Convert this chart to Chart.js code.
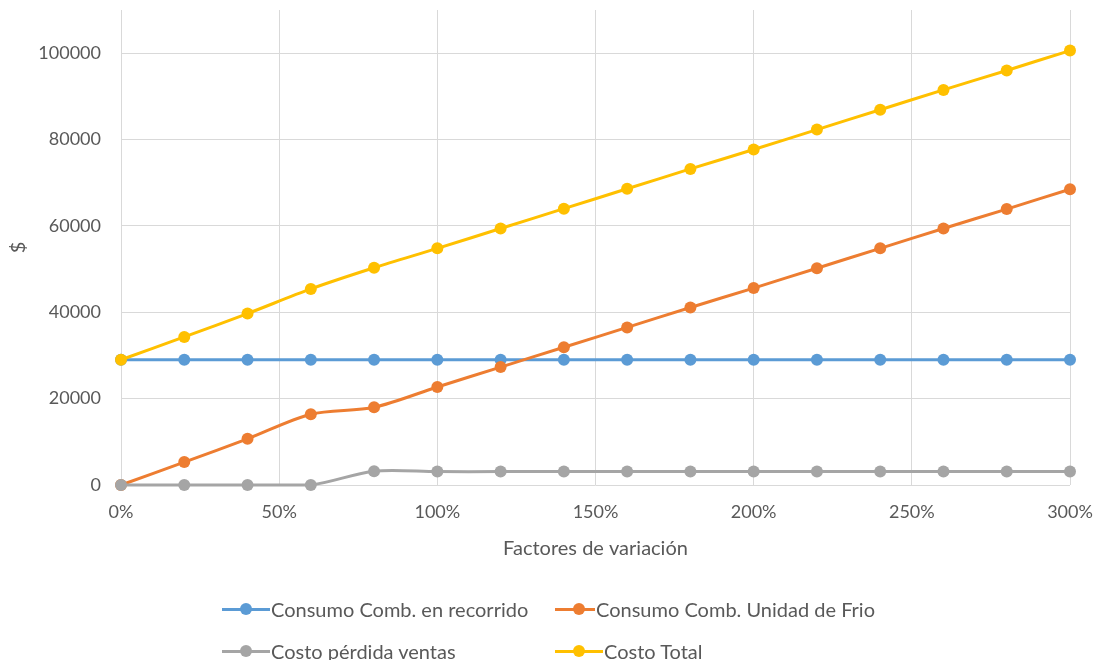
<!DOCTYPE html>
<html>
<head>
<meta charset="utf-8">
<script src="https://cdn.jsdelivr.net/npm/chart.js@4.4.1/dist/chart.umd.min.js"></script>
<style>
  html, body { margin: 0; padding: 0; background: #ffffff; }
  #wrap { position: relative; width: 1097px; height: 660px; }
  #chart { position: absolute; left: 0; top: 0; }
  #legend {
    position: absolute; left: 222px; top: 596px;
    display: grid; grid-template-columns: 333px 320px; row-gap: 16px;
    font-family: Lato, "Open Sans", sans-serif; font-size: 20px; color: #595959;
  }
  .item { display: flex; align-items: center; height: 26px; white-space: nowrap; }
  .sw { position: relative; width: 48px; height: 12px; margin-right: 1px; }
  .sw .ln { position: absolute; left: 0; right: 0; top: 4.5px; height: 3px; }
  .sw .dt { position: absolute; left: 18px; top: 0; width: 12px; height: 12px; border-radius: 50%; }
</style>
</head>
<body>
<div id="wrap">
  <canvas id="chart" width="1097" height="660"></canvas>
  <div id="legend"></div>
</div>
<script>
// Variation factors (%) along the horizontal axis
const factores = [0, 20, 40, 60, 80, 100, 120, 140, 160, 180, 200, 220, 240, 260, 280, 300];

// Cost series in $
const consumoRecorrido = [29000, 29000, 29000, 29000, 29000, 29000, 29000, 29000, 29000, 29000, 29000, 29000, 29000, 29000, 29000, 29000];
const consumoFrio      = [0, 5300, 10700, 16400, 18000, 22700, 27300, 31900, 36500, 41100, 45600, 50200, 54800, 59400, 63900, 68500];
const perdidaVentas    = [0, 0, 0, 0, 3200, 3100, 3100, 3100, 3100, 3100, 3100, 3100, 3100, 3100, 3100, 3100];
const costoTotal       = [29000, 34300, 39700, 45400, 50300, 54800, 59400, 64000, 68600, 73200, 77700, 82300, 86900, 91500, 96000, 100600];

const seriesNames = ['Consumo Comb. en recorrido', 'Consumo Comb. Unidad de Frio', 'Costo pérdida ventas', 'Costo Total'];
const seriesColors = ['#5B9BD5', '#ED7D31', '#A5A5A5', '#FFC000'];
const seriesValues = [consumoRecorrido, consumoFrio, perdidaVentas, costoTotal];

const yTicks = [0, 20000, 40000, 60000, 80000, 100000];

const FONT = 'Lato, "Open Sans", sans-serif';
const TEXT = '#595959';
const GRID = '#D9D9D9';

// Later series are painted on top of earlier ones
const datasets = seriesValues.map((vals, i) => ({
  label: seriesNames[i],
  data: factores.map((f, k) => ({ x: f, y: vals[k] })),
  borderColor: seriesColors[i],
  backgroundColor: seriesColors[i],
  borderWidth: 3,
  pointRadius: 6,
  pointBorderWidth: 0,
  pointHoverRadius: 6,
  tension: 0.3,
  fill: false,
  clip: false,
  order: seriesValues.length - i
}));

new Chart(document.getElementById('chart'), {
  type: 'line',
  data: { datasets },
  options: {
    responsive: false,
    animation: false,
    layout: { padding: { left: 0, right: 27, top: 10, bottom: 99 } },
    plugins: { legend: { display: false }, tooltip: { enabled: false } },
    scales: {
      x: {
        type: 'linear',
        min: 0, max: 300,
        border: { display: false },
        grid: { color: GRID, lineWidth: 1, drawTicks: false },
        afterFit: s => { s.height = 76; s.paddingLeft = 0; s.paddingRight = 0; },
        ticks: {
          stepSize: 50, padding: 16,
          color: TEXT, font: { family: FONT, size: 18 },
          callback: v => v + '%'
        },
        title: {
          display: true, text: 'Factores de variación',
          color: TEXT, font: { family: FONT, size: 20 },
          padding: { top: 0, bottom: 0 }
        }
      },
      y: {
        min: 0, max: 110000,
        border: { display: false },
        grid: { color: GRID, lineWidth: 1, drawTicks: false },
        afterBuildTicks: s => { s.ticks = yTicks.map(v => ({ value: v })); },
        afterFit: s => { s.width = 121; s.paddingTop = 0; s.paddingBottom = 0; },
        ticks: {
          padding: 20,
          color: TEXT, font: { family: FONT, size: 18 },
          callback: v => String(v)
        },
        title: {
          display: true, text: '$',
          color: TEXT, font: { family: FONT, size: 20 },
          padding: { top: 7, bottom: 0 }
        }
      }
    }
  }
});

// Legend laid out in two columns below the chart
const legend = document.getElementById('legend');
seriesNames.forEach((name, i) => {
  const item = document.createElement('div');
  item.className = 'item';
  item.innerHTML = '<span class="sw"><span class="ln" style="background:' + seriesColors[i] + '"></span>' +
    '<span class="dt" style="background:' + seriesColors[i] + '"></span></span><span>' + name + '</span>';
  legend.appendChild(item);
});
</script>
</body>
</html>
